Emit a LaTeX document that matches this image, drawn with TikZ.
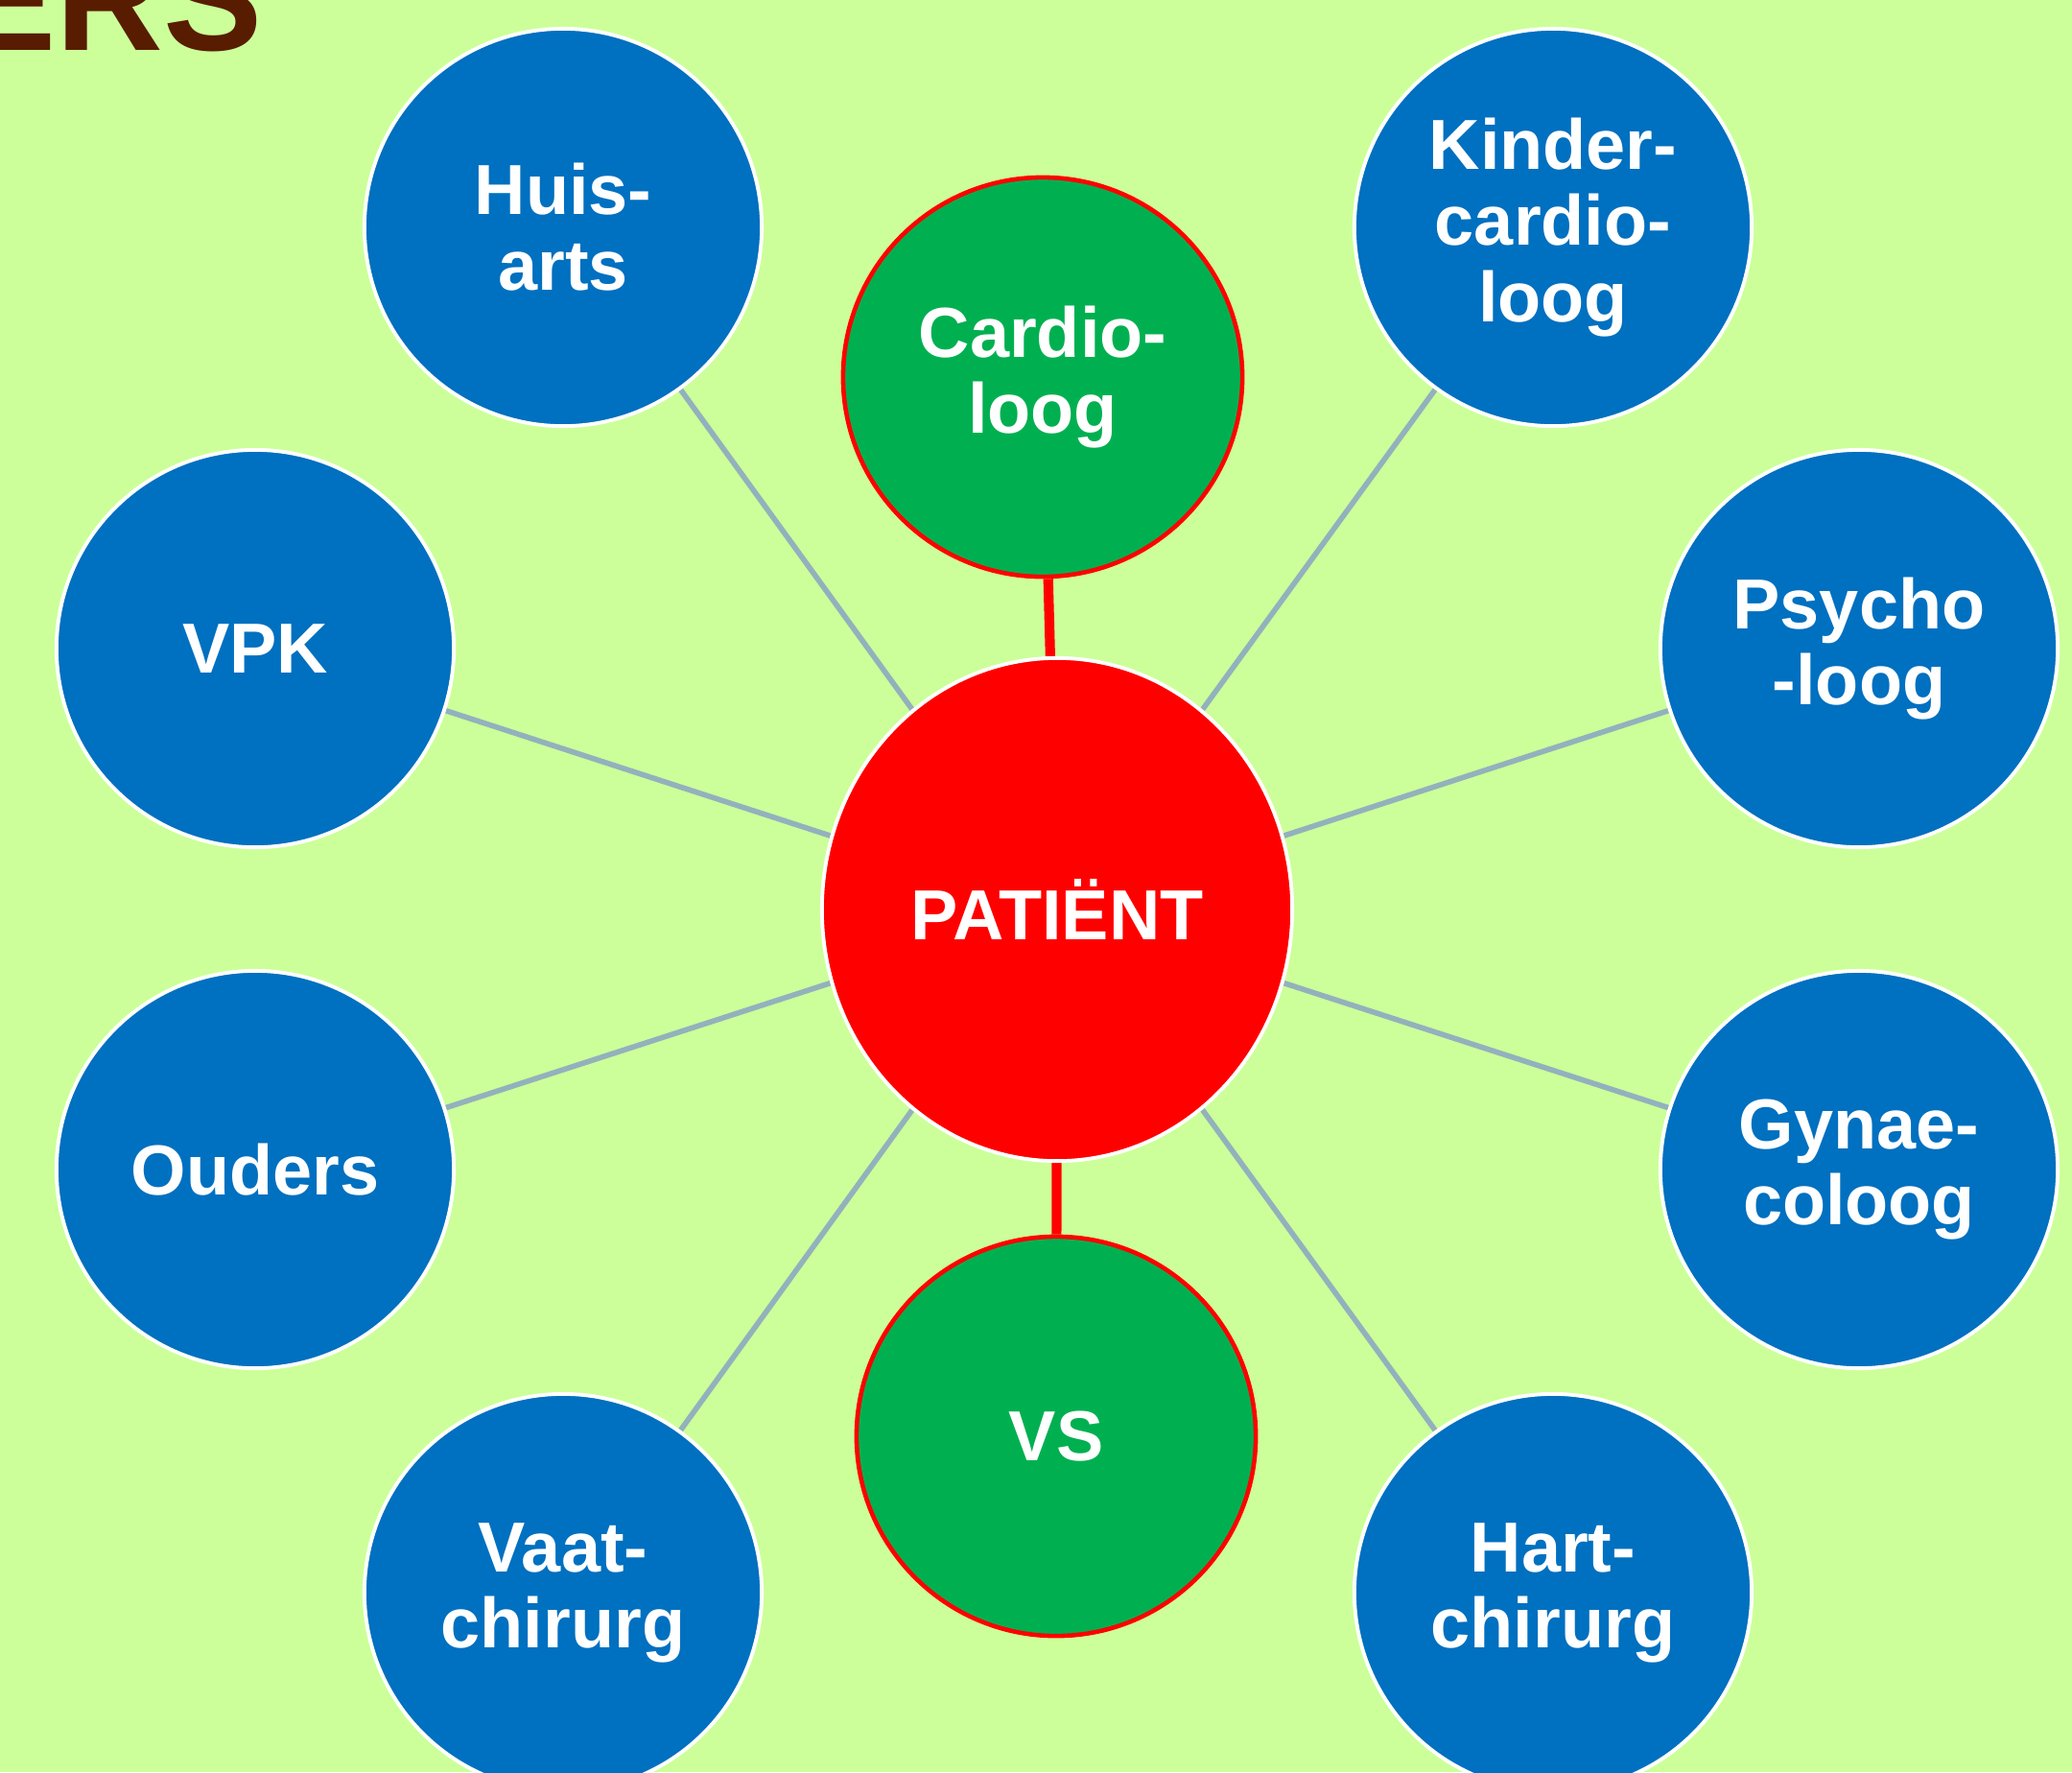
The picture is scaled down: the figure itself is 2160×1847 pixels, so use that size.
\documentclass[tikz,border=0pt]{standalone}
\usepackage{fontspec}
\setmainfont{Liberation Sans}
\usetikzlibrary{shapes.geometric, backgrounds}
\usepackage{xcolor}
\definecolor{bggreen}{RGB}{204,255,153}
\definecolor{zorgblue}{RGB}{0,112,192}
\definecolor{kerngreen}{RGB}{0,176,80}
\definecolor{patred}{RGB}{255,0,0}
\definecolor{linkgrey}{RGB}{147,177,189}
\definecolor{titlebrown}{RGB}{88,28,0}

\begin{document}
\begin{tikzpicture}[
    x=0.01cm, y=-0.01cm,
    every node/.style={font=\fontsize{21}{22.5}\selectfont\bfseries, text=white, align=center},
    rolcircle/.style={circle, draw=white, line width=1.1pt, fill=zorgblue,
        minimum size=4.14cm, inner sep=0pt},
    kerncircle/.style={circle, draw=patred, line width=1.3pt, fill=kerngreen,
        minimum size=4.16cm, inner sep=0pt},
    patientnode/.style={ellipse, draw=white, line width=1.1pt, fill=patred,
        minimum width=4.9cm, minimum height=5.24cm, inner sep=0pt},
    link/.style={draw=linkgrey, line width=1.6pt},
    redlink/.style={draw=patred, line width=2.9pt},
]

\useasboundingbox (0,0) rectangle (2160,1847);

% === TITLE (cut off) ===
\node[anchor=base east, inner sep=0pt, text=titlebrown,
      font=\fontsize{44}{44}\selectfont\bfseries] (title) at (274,52) {ERS};

% === CENTRE ===
\node[patientnode] (patient) at (1102,948) {PATIËNT};
\node[kerncircle] (cardio) at (1087,393) {Cardio-\\loog};
\node[kerncircle] (vs) at (1101,1497) {VS};

% === SURROUNDING ROLES ===
\node[rolcircle] (huisarts) at (587,237) {Huis-\\arts};
\node[rolcircle] (kindercardio) at (1619,237) {Kinder-\\cardio-\\loog};
\node[rolcircle] (vpk) at (266,676) {VPK};
\node[rolcircle] (psycho) at (1938,676) {Psycho\\-loog};
\node[rolcircle] (ouders) at (266,1219) {Ouders};
\node[rolcircle] (gynae) at (1938,1219) {Gynae-\\coloog};
\node[rolcircle] (vaat) at (587,1660) {Vaat-\\chirurg};
\node[rolcircle] (hart) at (1619,1660) {Hart-\\chirurg};

% === CONNECTORS ===
\begin{scope}[on background layer]
    \fill[bggreen] (0,0) rectangle (2160,1847);
    \foreach \rol in {huisarts, kindercardio, vpk, psycho, ouders, gynae, vaat, hart}
        \draw[link] (patient) -- (\rol);
    \draw[redlink] (patient) -- (cardio);
    \draw[redlink] (patient) -- (vs);
\end{scope}

\end{tikzpicture}
\end{document}
